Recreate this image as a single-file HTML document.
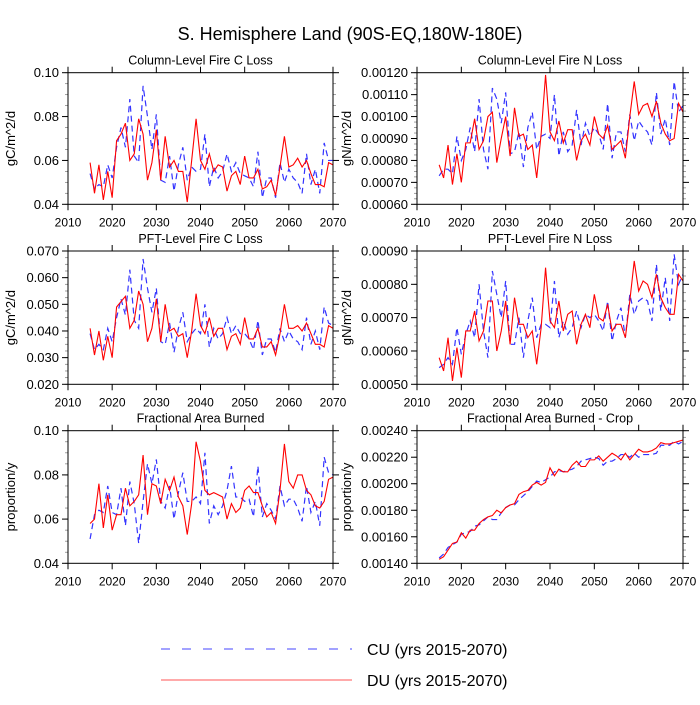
<!DOCTYPE html>
<html><head><meta charset="utf-8"><style>
body{margin:0;background:#fff;}
svg text{font-family:"Liberation Sans",Arial,sans-serif;fill:#000;}
</style></head><body>
<svg id="chart" width="700" height="700" xmlns="http://www.w3.org/2000/svg">
<rect width="700" height="700" fill="#fff"/>
<text x="350" y="40" font-size="18" text-anchor="middle">S. Hemisphere Land (90S-EQ,180W-180E)</text>
<g id="panels"></g>
<g>
<line x1="161" y1="649" x2="352" y2="649" stroke="#4444ff" stroke-width="1" stroke-dasharray="9,12"/>
<text x="367" y="655" font-size="16">CU (yrs 2015-2070)</text>
<line x1="161" y1="680" x2="352" y2="680" stroke="#ff5555" stroke-width="1"/>
<text x="367" y="686" font-size="16">DU (yrs 2015-2070)</text>
</g>
</svg>
<script>
const years = [];
for (let y = 2015; y <= 2070; y++) years.push(y);
const xTicks = [2010, 2020, 2030, 2040, 2050, 2060, 2070];

const colCRed = [.059,.045,.058,.042,.055,.043,.069,.072,.077,.060,.063,.079,.072,.051,.059,.074,.051,.071,.057,.060,.055,.055,.041,.060,.079,.060,.056,.063,.055,.058,.057,.046,.053,.055,.049,.062,.052,.052,.056,.047,.048,.051,.044,.057,.071,.057,.058,.061,.057,.060,.054,.049,.049,.048,.059,.058];
const colCBlue = [.054,.047,.049,.048,.058,.052,.066,.075,.066,.088,.062,.059,.094,.080,.065,.081,.051,.050,.062,.046,.058,.066,.051,.057,.055,.056,.072,.048,.057,.052,.055,.063,.055,.059,.054,.053,.052,.048,.064,.043,.052,.052,.043,.059,.050,.056,.052,.050,.045,.063,.049,.056,.045,.068,.060,.060];
const colNRed = [78,72,87,69,83,70,88,88,99,85,89,100,102,79,90,100,82,104,91,92,85,87,72,92,119,93,89,98,88,94,94,80,89,92,87,100,92,90,96,85,87,89,81,100,116,101,105,106,100,107,97,92,89,90,106,102];
const colNBlue = [73,76,76,74,91,80,85,95,84,108,85,76,113,108,97,111,83,84,93,77,95,102,85,91,92,90,110,82,93,84,87,103,87,97,91,95,92,85,106,81,93,93,84,101,89,98,95,93,87,111,92,99,87,116,102,105];
const pftCRed = [.041,.031,.040,.029,.038,.030,.049,.051,.053,.041,.044,.055,.050,.036,.041,.052,.036,.050,.040,.041,.038,.039,.030,.040,.054,.042,.039,.045,.038,.041,.041,.033,.038,.039,.035,.045,.037,.037,.041,.034,.034,.036,.031,.039,.050,.041,.041,.042,.040,.043,.039,.035,.035,.034,.042,.041];
const pftCBlue = [.039,.033,.035,.033,.041,.036,.045,.052,.046,.063,.044,.041,.067,.056,.047,.056,.036,.035,.043,.032,.041,.047,.036,.039,.041,.039,.050,.034,.041,.037,.039,.045,.039,.042,.039,.039,.037,.033,.044,.031,.037,.037,.032,.041,.036,.040,.037,.036,.033,.045,.035,.040,.033,.049,.043,.042];
const pftNRed = [58,54,64,51,61,52,66,66,72,63,66,75,75,60,66,75,62,76,68,68,64,66,56,67,85,69,67,75,66,71,72,62,68,71,67,77,70,69,74,66,68,68,64,75,87,78,81,80,76,83,76,73,71,71,83,81];
const pftNBlue = [55,56,58,56,67,59,65,69,64,80,66,58,84,77,70,81,62,62,70,58,69,76,64,68,68,67,81,64,69,65,67,72,67,71,70,71,69,66,75,63,69,73,64,77,71,75,76,75,69,86,72,82,69,89,80,83];
const fabRed = [.058,.060,.076,.056,.071,.055,.062,.062,.074,.066,.068,.071,.089,.062,.076,.075,.067,.078,.073,.079,.070,.066,.053,.067,.095,.086,.073,.071,.072,.071,.070,.060,.067,.063,.065,.073,.075,.072,.072,.066,.061,.063,.058,.073,.094,.077,.074,.080,.080,.073,.071,.066,.065,.068,.078,.079];
const fabBlue = [.051,.062,.064,.063,.075,.063,.062,.074,.057,.077,.067,.049,.068,.085,.076,.087,.068,.065,.075,.060,.072,.081,.068,.068,.070,.067,.090,.058,.066,.062,.066,.073,.084,.070,.070,.068,.069,.061,.084,.061,.067,.064,.060,.075,.066,.069,.069,.065,.059,.075,.063,.068,.057,.088,.081,.080];
const cropRed = [143,145,150,155,156,163,159,165,165,170,173,175,176,180,178,182,184,185,192,194,195,199,201,199,201,212,206,211,209,209,214,217,213,213,218,218,221,217,220,223,221,218,223,218,222,226,224,224,225,227,231,230,230,231,232,233];
const cropBlue = [144,147,152,154,156,162,163,164,168,169,172,175,173,173,178,182,184,184,188,191,194,198,202,201,203,205,209,210,209,210,211,213,217,218,219,220,219,214,217,217,219,222,222,220,223,220,222,222,222,223,229,229,229,232,230,232];

const NS = "http://www.w3.org/2000/svg";
const root = document.getElementById('panels');
function mk(tag, attrs, parent){
  const e = document.createElementNS(NS, tag);
  for (const k in attrs) e.setAttribute(k, attrs[k]);
  (parent||root).appendChild(e);
  return e;
}
const cols = [{x0:68,x1:333},{x0:417,x1:683}];
const rows = [{top:72.7,bot:204.3},{top:251,bot:384.3},{top:430.7,bot:563.3}];
const panels = [
 {name:'column-fire-c-loss',title:'Column-Level Fire C Loss',c:0,r:0,ymin:.04,ymax:.10,step:.02,minor:.005,dec:2,scale:1,ytitle:'gC/m^2/d',red:colCRed,blue:colCBlue},
 {name:'column-fire-n-loss',title:'Column-Level Fire N Loss',c:1,r:0,ymin:60,ymax:120,step:10,minor:2.5,dec:5,scale:1e-5,ytitle:'gN/m^2/d',red:colNRed,blue:colNBlue},
 {name:'pft-fire-c-loss',title:'PFT-Level Fire C Loss',c:0,r:1,ymin:.02,ymax:.07,step:.01,minor:.0025,dec:3,scale:1,ytitle:'gC/m^2/d',red:pftCRed,blue:pftCBlue},
 {name:'pft-fire-n-loss',title:'PFT-Level Fire N Loss',c:1,r:1,ymin:50,ymax:90,step:10,minor:2.5,dec:5,scale:1e-5,ytitle:'gN/m^2/d',red:pftNRed,blue:pftNBlue},
 {name:'fractional-area-burned',title:'Fractional Area Burned',c:0,r:2,ymin:.04,ymax:.10,step:.02,minor:.005,dec:2,scale:1,ytitle:'proportion/y',red:fabRed,blue:fabBlue},
 {name:'fractional-area-burned-crop',title:'Fractional Area Burned - Crop',c:1,r:2,ymin:140,ymax:240,step:20,minor:5,dec:5,scale:1e-5,ytitle:'proportion/y',red:cropRed,blue:cropBlue}
];
panels.forEach(p=>{
  const C = cols[p.c], R = rows[p.r];
  const g = mk('g',{});
  
  
  const xs = v => C.x0 + (v-2010)/60*(C.x1-C.x0);
  const ys = v => R.bot - (v-p.ymin)/(p.ymax-p.ymin)*(R.bot-R.top);
  const t = mk('text',{x:(C.x0+C.x1)/2,y:R.top-8,'font-size':12.5,'text-anchor':'middle'},g);
  t.textContent = p.title;
  
  
  // minor y ticks
  for (let v=p.ymin; v<=p.ymax+1e-9; v+=p.minor){
    const y = ys(v);
    mk('line',{x1:C.x0-3,x2:C.x0,y1:y,y2:y,stroke:'#888','stroke-width':0.8},g);
    mk('line',{x1:C.x1,x2:C.x1+3,y1:y,y2:y,stroke:'#888','stroke-width':0.8},g);
  }
  for (let v=p.ymin; v<=p.ymax+1e-9; v+=p.step){
    const y = ys(v);
    mk('line',{x1:C.x0-6,x2:C.x0,y1:y,y2:y,stroke:'#000','stroke-width':1},g);
    mk('line',{x1:C.x1,x2:C.x1+6,y1:y,y2:y,stroke:'#000','stroke-width':1},g);
    const lt = mk('text',{x:C.x0-9,y:y+4.5,'font-size':13,'text-anchor':'end'},g);
    lt.textContent = (v*p.scale).toFixed(p.dec);
    
    
  }
  xTicks.forEach(v=>{
    const x = xs(v);
    mk('line',{x1:x,x2:x,y1:R.bot,y2:R.bot+6,stroke:'#000','stroke-width':1},g);
    mk('line',{x1:x,x2:x,y1:R.top-6,y2:R.top,stroke:'#000','stroke-width':1},g);
    const lt = mk('text',{x:x,y:R.bot+22,'font-size':12,'text-anchor':'middle'},g);
    lt.textContent = v;
    
    
  });
  const yt = mk('text',{x:0,y:0,'font-size':13,'text-anchor':'middle',transform:`translate(${C.x0-53},${(R.top+R.bot)/2}) rotate(-90)`},g);
  if (p.c===1) yt.setAttribute('transform',`translate(${C.x0-66},${(R.top+R.bot)/2}) rotate(-90)`);
  yt.textContent = p.ytitle;
  
  
  const blue = mk('polyline',{points:p.blue.map((v,i)=>xs(years[i])+','+ys(v)).join(' '),fill:'none',stroke:'#3333ff','stroke-width':1.2,'stroke-dasharray':'6,4'},g);
  
  
  const red = mk('polyline',{points:p.red.map((v,i)=>xs(years[i])+','+ys(v)).join(' '),fill:'none',stroke:'#ff0000','stroke-width':1.1},g);
  
  
  const fr = mk('rect',{x:C.x0,y:R.top,width:C.x1-C.x0,height:R.bot-R.top,fill:'none',stroke:'#000','stroke-width':1},g);
  
  
});
</script>
</body></html>
